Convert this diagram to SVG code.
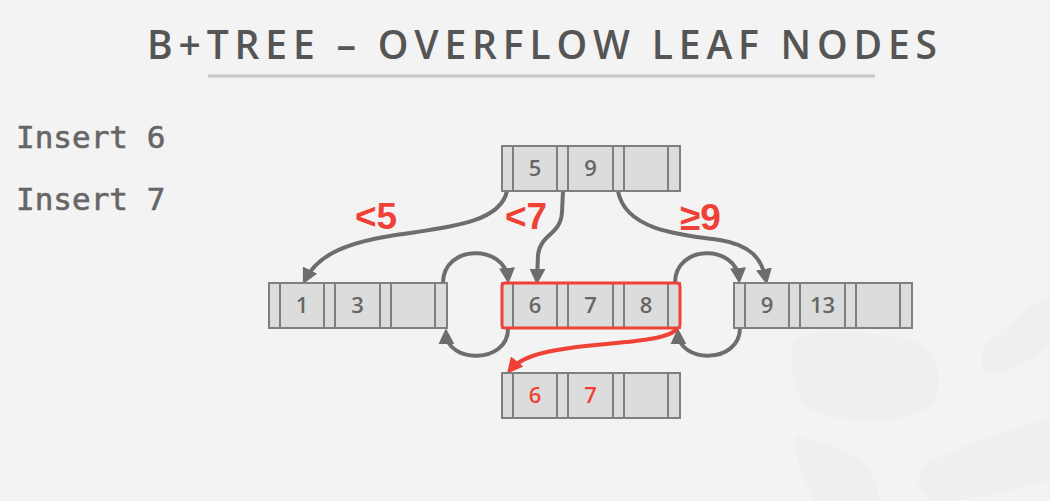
<svg xmlns="http://www.w3.org/2000/svg" width="1050" height="501" viewBox="0 0 1050 501">
  <defs>
    <style>
      .cell { fill: #dcdcdc; stroke: #7f7f7f; stroke-width: 2; }
      .key { font-family: "Open Sans", "Liberation Sans", Arial, sans-serif; font-size: 22px; font-weight: 600; fill: #666666; text-anchor: middle; }
      .keyred { font-family: "Open Sans", "Liberation Sans", Arial, sans-serif; font-size: 22px; font-weight: 600; fill: #ef4136; text-anchor: middle; }
      .lbl { font-family: "Liberation Sans", Arial, sans-serif; font-size: 37px; font-weight: bold; fill: #ef4136; }
      .ins { font-family: "DejaVu Sans Mono", "Liberation Mono", monospace; font-size: 31px; font-weight: normal; fill: #666666; stroke: #666666; stroke-width: 0.6; }
      .conn { fill: none; stroke: #6d6d6d; stroke-width: 4; marker-end: url(#ag); }
      .connred { fill: none; stroke: #ef4136; stroke-width: 4; marker-end: url(#ar); }
      .wm { fill: #efefef; }
    </style>
    <marker id="ag" viewBox="0 0 10 10" refX="7" refY="5" markerWidth="16" markerHeight="16" markerUnits="userSpaceOnUse" orient="auto">
      <path d="M0,0 L10,5 L0,10 z" fill="#6d6d6d"/>
    </marker>
    <marker id="ar" viewBox="0 0 10 10" refX="7" refY="5" markerWidth="16" markerHeight="16" markerUnits="userSpaceOnUse" orient="auto">
      <path d="M0,0 L10,5 L0,10 z" fill="#ef4136"/>
    </marker>
    <g id="node">
      <rect class="cell" x="0" y="0" width="178" height="45"/>
      <line x1="11" y1="0" x2="11" y2="45" stroke="#7f7f7f" stroke-width="2"/>
      <line x1="55" y1="0" x2="55" y2="45" stroke="#7f7f7f" stroke-width="2"/>
      <line x1="66" y1="0" x2="66" y2="45" stroke="#7f7f7f" stroke-width="2"/>
      <line x1="111" y1="0" x2="111" y2="45" stroke="#7f7f7f" stroke-width="2"/>
      <line x1="122" y1="0" x2="122" y2="45" stroke="#7f7f7f" stroke-width="2"/>
      <line x1="166" y1="0" x2="166" y2="45" stroke="#7f7f7f" stroke-width="2"/>
    </g>
  </defs>

  <rect x="0" y="0" width="1050" height="501" fill="#f3f3f3"/>

  <!-- faint watermark -->
  <g id="watermark">
    <path class="wm" d="M792,345 C800,325 850,330 905,338 C935,343 945,372 935,398 C925,420 890,423 840,418 C800,414 788,390 792,345 z"/>
    <path class="wm" d="M1050,295 L1050,345 C1030,360 1010,372 995,375 C975,375 980,350 990,340 C1010,325 1030,305 1050,295 z"/>
    <path class="wm" d="M795,435 C830,445 865,455 875,480 L880,501 L815,501 C805,485 795,460 795,435 z"/>
    <path class="wm" d="M925,465 C960,445 1010,430 1050,418 L1050,480 C1010,492 970,501 935,501 C915,495 915,475 925,465 z"/>
  </g>

  <!-- title -->
  <text x="147" y="59" textLength="790" lengthAdjust="spacing" font-family="'Open Sans', 'Liberation Sans', Arial, sans-serif" font-weight="600" font-size="39" fill="#555555">B+TREE – OVERFLOW LEAF NODES</text>
  <line x1="208" y1="76" x2="875" y2="76" stroke="#c8c8c8" stroke-width="3"/>

  <text class="ins" x="16" y="148">Insert 6</text>
  <text class="ins" x="16" y="210">Insert 7</text>

  <!-- connectors -->
  <g id="connectors">
    <path class="conn" d="M507,191 C500,225 440,228 390,236 C340,244 316,258 305,280"/>
    <path class="conn" d="M563,191 L562,212 C561,235 540,234 538,255 L537,280"/>
    <path class="conn" d="M618,191 C625,230 680,235 720,240 C750,245 762,258 766,280"/>
    <path class="conn" d="M443,283 C443,244 505,244 508,279"/>
    <path class="conn" d="M508,329 C508,364 447,364 446,333"/>
    <path class="conn" d="M675,283 C675,244 736,244 739,279"/>
    <path class="conn" d="M740,328 C740,364 679,364 678,333"/>
    <path class="connred" d="M677,328 C670,342 610,342 570,348 C540,352 520,358 510,370"/>
  </g>

  <!-- labels -->
  <text class="lbl" x="355" y="229">&lt;5</text>
  <text class="lbl" x="505" y="229">&lt;7</text>
  <text class="lbl" x="680" y="230">≥9</text>

  <!-- nodes -->
  <g id="root" transform="translate(502,146)">
    <use href="#node"/>
    <text class="key" x="33" y="30">5</text>
    <text class="key" x="88.5" y="30">9</text>
  </g>
  <g id="leaf1" transform="translate(269,283)">
    <use href="#node"/>
    <text class="key" x="33" y="30">1</text>
    <text class="key" x="88.5" y="30">3</text>
  </g>
  <g id="leaf2" transform="translate(502,283)">
    <use href="#node"/>
    <text class="key" x="33" y="30">6</text>
    <text class="key" x="88.5" y="30">7</text>
    <text class="key" x="144" y="30">8</text>
    <rect x="0" y="0" width="178" height="45" rx="3" fill="none" stroke="#ef4136" stroke-width="3"/>
  </g>
  <g id="leaf3" transform="translate(734,283)">
    <use href="#node"/>
    <text class="key" x="33" y="30">9</text>
    <text class="key" x="88.5" y="30">13</text>
  </g>
  <g id="overflow" transform="translate(502,373)">
    <use href="#node"/>
    <text class="keyred" x="33" y="30">6</text>
    <text class="keyred" x="88.5" y="30">7</text>
  </g>
</svg>
